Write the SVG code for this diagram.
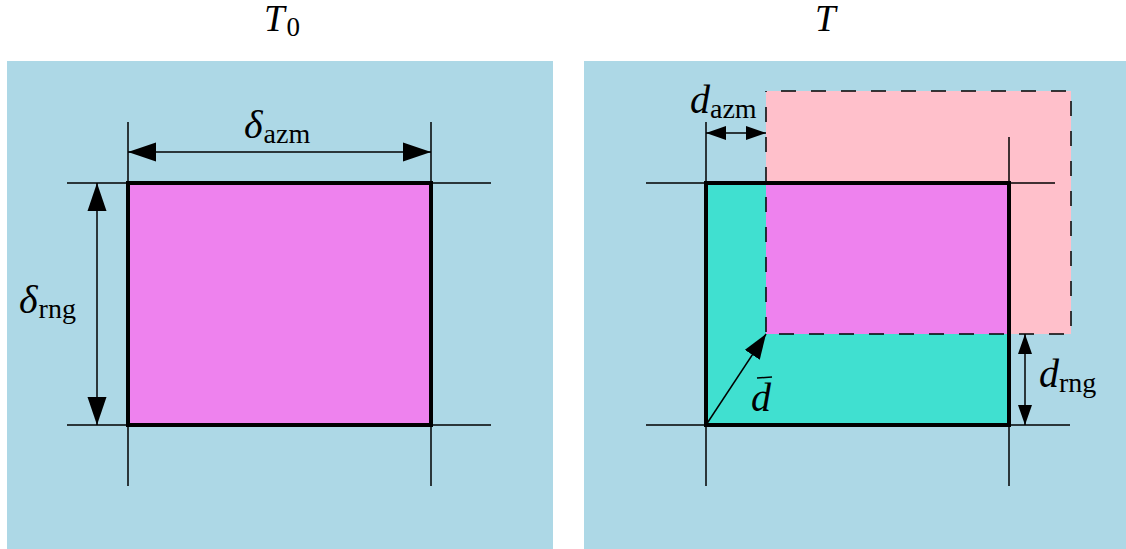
<svg xmlns="http://www.w3.org/2000/svg" width="1126" height="549" viewBox="0 0 1126 549">
<style>
.bg{fill:#ADD8E6}
.thin{stroke:#000;stroke-width:1.5;fill:none}
.box{stroke:#000;stroke-width:4;fill:none}
.math{font-family:"Liberation Serif","DejaVu Serif",serif;font-style:italic;fill:#000}
.sub{font-family:"Liberation Serif","DejaVu Serif",serif;font-style:normal;fill:#000}
</style>
<defs>
<marker id="bigS" markerUnits="userSpaceOnUse" markerWidth="30" markerHeight="22" refX="0" refY="10" orient="auto"><path d="M0,10 L28,0.5 L28,19.5 Z" fill="#000"/></marker>
<marker id="bigE" markerUnits="userSpaceOnUse" markerWidth="30" markerHeight="22" refX="28" refY="10" orient="auto"><path d="M28,10 L0,0.5 L0,19.5 Z" fill="#000"/></marker>
<marker id="smS" markerUnits="userSpaceOnUse" markerWidth="22" markerHeight="16" refX="0" refY="7" orient="auto"><path d="M0,7 L20,0 L20,14 Z" fill="#000"/></marker>
<marker id="smE" markerUnits="userSpaceOnUse" markerWidth="22" markerHeight="16" refX="20" refY="7" orient="auto"><path d="M20,7 L0,0 L0,14 Z" fill="#000"/></marker>
<marker id="mdE" markerUnits="userSpaceOnUse" markerWidth="26" markerHeight="20" refX="25" refY="9" orient="auto"><path d="M25,9 L0,0 L0,18 Z" fill="#000"/></marker>
</defs>

<g id="title-T0"><text x="264" y="31"><tspan class="math" font-size="37">T</tspan><tspan class="sub" font-size="27" dy="5" dx="2">0</tspan></text></g>
<g id="title-T"><text class="math" x="815" y="31" font-size="37">T</text></g>

<g id="panel-left">
<rect class="bg" x="7" y="61" width="546" height="488"/>
<rect x="128" y="183" width="303" height="242" fill="#EE82EE"/>
</g>
<g id="panel-right">
<rect class="bg" x="584" y="61" width="542" height="488"/>
<rect x="766" y="91" width="305" height="243" fill="#FFC0CB"/>
<rect x="706" y="183" width="303" height="242" fill="#40E0D0"/>
<rect x="766" y="183" width="243" height="151" fill="#EE82EE"/>
<rect x="766" y="91" width="305" height="243" fill="none" stroke="#000" stroke-width="1.5" stroke-dasharray="15,15" stroke-dashoffset="-15"/>
</g>

<g id="connectors">
<line class="thin" x1="67" y1="183" x2="491" y2="183"/>
<line class="thin" x1="67" y1="425" x2="491" y2="425"/>
<line class="thin" x1="128" y1="122" x2="128" y2="486"/>
<line class="thin" x1="431" y1="122" x2="431" y2="486"/>
<line class="thin" x1="128" y1="152" x2="431" y2="152" marker-start="url(#bigS)" marker-end="url(#bigE)"/>
<line class="thin" x1="97" y1="183" x2="97" y2="425" marker-start="url(#bigS)" marker-end="url(#bigE)"/>

<line class="thin" x1="646" y1="183" x2="1055" y2="183"/>
<line class="thin" x1="646" y1="425" x2="1070" y2="425"/>
<line class="thin" x1="706" y1="122" x2="706" y2="486"/>
<line class="thin" x1="1009" y1="137" x2="1009" y2="486"/>
<line class="thin" x1="706" y1="133" x2="766" y2="133" marker-start="url(#smS)" marker-end="url(#smE)"/>
<line class="thin" x1="1025" y1="334" x2="1025" y2="425" marker-start="url(#smS)" marker-end="url(#smE)"/>
<line class="thin" x1="706" y1="425" x2="766" y2="334" marker-end="url(#mdE)"/>
</g>

<g id="boxes">
<rect class="box" x="128" y="183" width="303" height="242"/>
<rect class="box" x="706" y="183" width="303" height="242"/>
</g>

<g id="labels">
<text x="244" y="138"><tspan class="math" font-size="40">δ</tspan><tspan class="sub" font-size="28" dy="5" dx="1">azm</tspan></text>
<text x="19" y="313"><tspan class="math" font-size="40">δ</tspan><tspan class="sub" font-size="28" dy="5" dx="1">rng</tspan></text>
<text x="690" y="113"><tspan class="math" font-size="40">d</tspan><tspan class="sub" font-size="28" dy="5">azm</tspan></text>
<text x="1039" y="387"><tspan class="math" font-size="40">d</tspan><tspan class="sub" font-size="28" dy="5">rng</tspan></text>
<text class="math" x="751" y="411" font-size="40">d</text>
<line x1="757" y1="378" x2="772" y2="377" stroke="#000" stroke-width="1.5"/>
</g>
</svg>
